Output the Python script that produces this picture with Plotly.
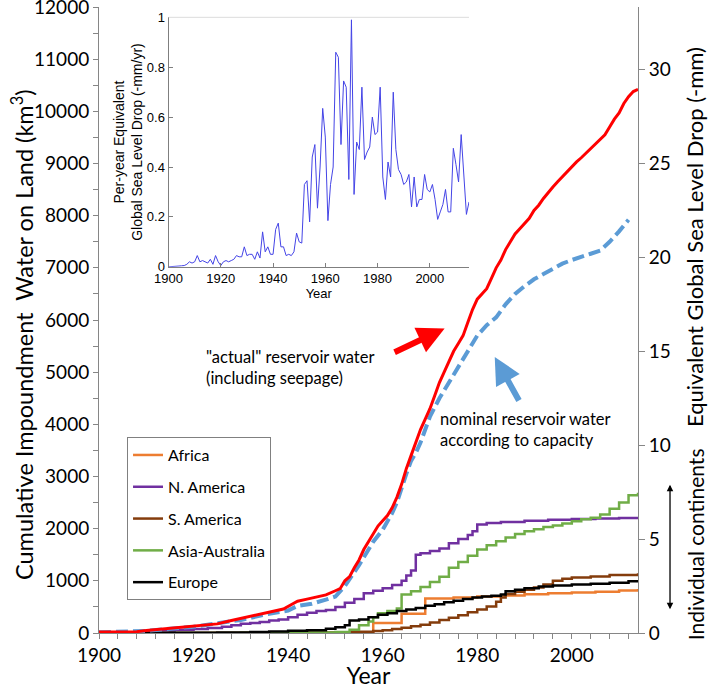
import plotly.graph_objects as go

# ---------------- data ----------------
actual_years = [1900, 1905, 1908, 1910, 1915, 1920, 1925, 1928, 1930, 1933, 1936, 1939, 1941, 1942, 1944,
                1946, 1948, 1950, 1951, 1952, 1953, 1954, 1955, 1956, 1957, 1958, 1959, 1960, 1961, 1962,
                1963, 1964, 1965, 1966, 1967, 1968, 1969, 1970, 1971, 1972, 1973, 1974, 1975, 1976, 1977,
                1978, 1979, 1980, 1981, 1982, 1983, 1984, 1985, 1986, 1987, 1988, 1989, 1990, 1991, 1992,
                1993, 1994, 1995, 1996, 1997, 1998, 1999, 2000, 2001, 2002, 2003, 2004, 2005, 2006, 2007,
                2008, 2009, 2010, 2011, 2012, 2013, 2014]
actual_vals = [20, 20, 25, 50, 95, 135, 175, 240, 280, 330, 400, 460, 560, 610, 650,
               690, 730, 810, 850, 1000, 1080, 1250, 1400, 1600, 1750, 1900, 2050, 2150, 2250, 2400,
               2600, 2850, 3150, 3400, 3650, 3900, 4100, 4300, 4550, 4800, 5000, 5200, 5400, 5550, 5700,
               5950, 6200, 6400, 6500, 6600, 6800, 7000, 7150, 7350, 7500, 7650, 7750, 7850, 7950, 8100,
               8200, 8330, 8450, 8550, 8650, 8750, 8850, 8950, 9030, 9110, 9200, 9270, 9370, 9450, 9550,
               9700, 9850, 9970, 10150, 10280, 10380, 10420]

nominal_years = [1900, 1910, 1920, 1930, 1936, 1940, 1942, 1945, 1948, 1950, 1952, 1954, 1955, 1956, 1958,
                 1960, 1962, 1963, 1964, 1965, 1966, 1967, 1968, 1969, 1970, 1972, 1974, 1976, 1978, 1980,
                 1982, 1984, 1986, 1988, 1990, 1992, 1994, 1996, 1998, 2000, 2002, 2004, 2006, 2008, 2010, 2012]
nominal_vals = [15, 40, 120, 250, 370, 430, 520, 560, 640, 700, 900, 1150, 1300, 1450, 1750,
                1980, 2300, 2500, 2800, 3050, 3300, 3450, 3650, 3900, 4150, 4500, 4800, 5100, 5400, 5700,
                5900, 6050, 6300, 6500, 6650, 6780, 6880, 6980, 7080, 7150, 7200, 7270, 7330, 7500, 7700, 7920]

africa_years = [1900, 1958, 1964, 1969, 1975, 1980, 1985, 1990, 1995, 2000, 2005, 2010, 2014]
africa_vals = [0, 190, 370, 660, 680, 700, 720, 745, 760, 775, 790, 815, 845]

namerica_years = [1900, 1905, 1910, 1913, 1916, 1920, 1923, 1926, 1928, 1930, 1932, 1934, 1936, 1938, 1940,
                  1942, 1944, 1946, 1948, 1950, 1952, 1954, 1956, 1958, 1960, 1962, 1964, 1965, 1966, 1967,
                  1968, 1970, 1972, 1974, 1976, 1978, 1979, 1980, 1982, 1985, 1990, 1995, 2000, 2005, 2010, 2014]
namerica_vals = [0, 5, 20, 40, 60, 75, 95, 120, 150, 175, 190, 210, 240, 260, 300,
                 350, 390, 420, 440, 500, 580, 650, 760, 810, 860, 920, 1000, 1100, 1200, 1500,
                 1530, 1570, 1620, 1720, 1800, 1880, 1950, 2080, 2110, 2130, 2150, 2170, 2185, 2195, 2205, 2210]

samerica_years = [1900, 1930, 1940, 1950, 1955, 1958, 1960, 1962, 1964, 1966, 1968, 1970, 1972, 1974, 1976,
                  1978, 1980, 1982, 1984, 1985, 1986, 1988, 1990, 1992, 1994, 1996, 1998, 2000, 2004, 2008, 2014]
samerica_vals = [0, 5, 10, 15, 25, 40, 55, 75, 100, 130, 160, 200, 250, 290, 340,
                 400, 450, 510, 600, 680, 750, 790, 830, 870, 930, 1000, 1040, 1065, 1085, 1110, 1145]

asia_years = [1900, 1930, 1945, 1950, 1953, 1955, 1957, 1958, 1959, 1961, 1963, 1964, 1966, 1968, 1970,
              1972, 1974, 1976, 1978, 1980, 1982, 1984, 1986, 1988, 1990, 1992, 1994, 1996, 1998, 2000,
              2002, 2004, 2006, 2008, 2010, 2012, 2014]
asia_vals = [0, 5, 10, 20, 60, 150, 220, 300, 380, 420, 470, 740, 800, 880, 980,
             1080, 1250, 1360, 1480, 1600, 1680, 1760, 1830, 1900, 1950, 1990, 2030, 2060, 2100, 2140,
             2180, 2210, 2270, 2380, 2500, 2640, 2690]

europe_years = [1900, 1915, 1925, 1932, 1936, 1940, 1944, 1948, 1950, 1952, 1953, 1955, 1957, 1959, 1961,
                1963, 1965, 1967, 1969, 1971, 1973, 1975, 1977, 1979, 1981, 1983, 1985, 1986, 1988, 1990,
                1993, 1996, 2000, 2004, 2008, 2012, 2014]
europe_vals = [0, 5, 10, 20, 30, 45, 55, 80, 110, 150, 240, 260, 300, 350, 380,
               420, 450, 480, 520, 550, 590, 620, 650, 680, 700, 715, 740, 800, 830, 860,
               890, 910, 930, 945, 965, 990, 1005]

inset_years = list(range(1900, 2016))
inset_vals = [0, 0, 0, 0.002, 0.003, 0.004, 0.005, 0.01, 0.02, 0.015,
              0.02, 0.045, 0.02, 0.025, 0.02, 0.015, 0.03, 0.01, 0.045, 0.02,
              0.005, 0.02, 0.025, 0.02, 0.025, 0.03, 0.045, 0.04, 0.04, 0.08,
              0.045, 0.05, 0.05, 0.03, 0.06, 0.035, 0.14, 0.06, 0.08, 0.05,
              0.05, 0.15, 0.175, 0.08, 0.08, 0.045, 0.05, 0.045, 0.06, 0.135,
              0.1, 0.095, 0.33, 0.345, 0.18, 0.44, 0.49, 0.235, 0.4, 0.635,
              0.52, 0.185, 0.33, 0.4, 0.86, 0.84, 0.49, 0.745, 0.72, 0.35,
              0.99, 0.29, 0.5, 0.47, 0.72, 0.43, 0.46, 0.48, 0.6, 0.53,
              0.54, 0.72, 0.36, 0.27, 0.42, 0.36, 0.7, 0.47, 0.39, 0.37,
              0.33, 0.34, 0.37, 0.24, 0.36, 0.24, 0.27, 0.27, 0.37, 0.31,
              0.3, 0.33, 0.27, 0.19, 0.22, 0.25, 0.31, 0.22, 0.22, 0.475,
              0.41, 0.34, 0.53, 0.37, 0.21, 0.26]

x_ticks = [1900, 1920, 1940, 1960, 1980, 2000]
left_ticks = list(range(0, 12001, 1000))
right_ticks = [0, 5, 10, 15, 20, 25, 30]
KM3_PER_MM = 360.0

# ---------------- figure ----------------
FONT = "Lato, 'Open Sans', sans-serif"
ARIAL = "Arial, 'Liberation Sans', sans-serif"
AX = "#868686"

fig = go.Figure()

continents = [
    ("Africa", africa_years, africa_vals, "#ED7D31"),
    ("N. America", namerica_years, namerica_vals, "#7030A0"),
    ("S. America", samerica_years, samerica_vals, "#843C0C"),
    ("Asia-Australia", asia_years, asia_vals, "#70AD47"),
    ("Europe", europe_years, europe_vals, "#000000"),
]
for name, xs, ys, col in continents:
    fig.add_trace(go.Scatter(x=xs, y=ys, mode="lines", name=name, line=dict(color=col, width=2.5, shape="hv"),
                             legendgroup=name, xaxis="x", yaxis="y"))

fig.add_trace(go.Scatter(x=nominal_years, y=nominal_vals, mode="lines", showlegend=False,
                         line=dict(color="#5B9BD5", width=4, dash="12px,5px"), xaxis="x", yaxis="y"))
fig.add_trace(go.Scatter(x=actual_years, y=actual_vals, mode="lines", showlegend=False,
                         line=dict(color="#FF0000", width=3), xaxis="x", yaxis="y"))

fig.add_trace(go.Scatter(x=[actual_years[0]], y=[actual_vals[0] / KM3_PER_MM], mode="lines", showlegend=False,
                         line=dict(color="rgba(0,0,0,0)"), xaxis="x", yaxis="y2", hoverinfo="skip"))

fig.add_trace(go.Scatter(x=inset_years, y=inset_vals, mode="lines", showlegend=False,
                         line=dict(color="#4444E6", width=1), xaxis="x3", yaxis="y3"))

fig.update_layout(
    width=708, height=689,
    margin=dict(l=99, r=70, t=7, b=56, autoexpand=False),
    paper_bgcolor="white", plot_bgcolor="white",
    font=dict(family=FONT, color="black"),
    xaxis=dict(domain=[0, 1], range=[1900, 2014], tickmode="array", tickvals=x_ticks, automargin=False,
               showline=True, linecolor=AX, linewidth=1, ticks="outside", ticklen=5, tickcolor=AX,
               minor=dict(dtick=4, tick0=1900, ticks="outside", ticklen=5, tickcolor=AX),
               showgrid=False, zeroline=False, tickfont=dict(size=19, family=FONT),
               title=dict(text="Year", font=dict(size=23, family=FONT), standoff=3)),
    yaxis=dict(range=[0, 12000], tickmode="array", tickvals=left_ticks, tickformat="d", automargin=False,
               ticklabeloverflow="allow",
               showline=True, linecolor=AX, linewidth=1, ticks="outside", ticklen=5, tickcolor=AX,
               minor=dict(dtick=500, tick0=0, ticks="outside", ticklen=5, tickcolor=AX),
               showgrid=False, zeroline=False, tickfont=dict(size=19, family=FONT)),
    yaxis2=dict(range=[0, 12000 / KM3_PER_MM], overlaying="y", side="right", anchor="x", automargin=False,
                tickmode="array", tickvals=right_ticks, ticklabeloverflow="allow",
                showline=True, linecolor=AX, linewidth=1, ticks="outside", ticklen=6, tickcolor=AX,
                showgrid=False, zeroline=False, tickfont=dict(size=19, family=FONT)),
    xaxis3=dict(domain=[0.129, 0.6865], anchor="y3", range=[1900, 2015], tickmode="array", automargin=False,
                tickvals=[1900, 1920, 1940, 1960, 1980, 2000],
                showline=True, linecolor="#7F7F7F", linewidth=1, ticks="inside", ticklen=4, tickcolor="#7F7F7F",
                showgrid=False, zeroline=False, tickfont=dict(size=13, family=ARIAL),
                title=dict(text="Year", font=dict(size=13, family=ARIAL), standoff=0)),
    yaxis3=dict(domain=[0.585, 0.9835], anchor="x3", range=[0, 1], tickmode="array", automargin=False,
                tickvals=[0, 0.2, 0.4, 0.6, 0.8, 1], ticktext=["0", "0.2", "0.4", "0.6", "0.8", "1"],
                showline=True, linecolor="#7F7F7F", linewidth=1, ticks="inside", ticklen=4, tickcolor="#7F7F7F",
                showgrid=False, zeroline=False, tickfont=dict(size=13, family=ARIAL),
                title=dict(text="Per-year Equivalent<br>Global Sea Level Drop (-mm/yr)",
                           font=dict(size=14, family=ARIAL), standoff=0)),
    legend=dict(x=0.052, y=0.313, xanchor="left", yanchor="top", bgcolor="white",
                bordercolor="#808080", borderwidth=1, font=dict(size=16, family=FONT),
                tracegroupgap=8, itemwidth=30),
    showlegend=True,
)

fig.add_shape(type="line", xref="x3 domain", yref="y3 domain", x0=0, x1=1, y0=1, y1=1,
              line=dict(color="#DDDDDD", width=1))

annos = [
    dict(text="Cumulative Impoundment  Water on Land (km<sup>3</sup>)", xref="paper", yref="paper",
         x=-0.1429, y=0.476, xanchor="center", yanchor="middle", textangle=-90, showarrow=False,
         font=dict(size=23.5, family=FONT)),
    dict(text='"actual" reservoir water<br>(including seepage)', xref="paper", yref="paper",
         x=0.1948, y=0.4241, xanchor="left", yanchor="middle", align="left", showarrow=False,
         font=dict(size=16.5, family=FONT)),
    dict(text="nominal reservoir water<br>according to capacity", xref="paper", yref="paper",
         x=0.6295, y=0.3243, xanchor="left", yanchor="middle", align="left", showarrow=False,
         font=dict(size=16.5, family=FONT)),
    dict(text="", xref="x", yref="y", x=1973.1, y=5837, axref="x", ayref="y", ax=1962.2, ay=5369,
         showarrow=True, arrowhead=2, arrowsize=0.9, arrowwidth=6, arrowcolor="#FF0000"),
    dict(text="", xref="x", yref="y", x=1983.7, y=5292, axref="x", ayref="y", ax=1989.0, ay=4428,
         showarrow=True, arrowhead=2, arrowsize=0.9, arrowwidth=6, arrowcolor="#5B9BD5"),
    dict(text="Equivalent Global Sea Level Drop (-mm)", xref="paper", yref="paper", x=1.1058, y=0.6326,
         xanchor="center", yanchor="middle", textangle=-90, showarrow=False, font=dict(size=22, family=FONT)),
    dict(text="Individual continents", xref="paper", yref="paper", x=1.1058, y=0.142,
         xanchor="center", yanchor="middle", textangle=-90, showarrow=False, font=dict(size=21, family=FONT)),
    dict(text="", xref="paper", yref="y2", x=1.0594, y=7.9, axref="pixel", ayref="pixel", ax=0, ay=126,
         showarrow=True, arrowhead=2, arrowside="end+start", arrowsize=1, arrowwidth=1.3, arrowcolor="black"),
]
fig.update_layout(annotations=annos)

fig.write_html("out.html", config={"displayModeBar": False},
               post_script="document.body.style.margin='0px';")
